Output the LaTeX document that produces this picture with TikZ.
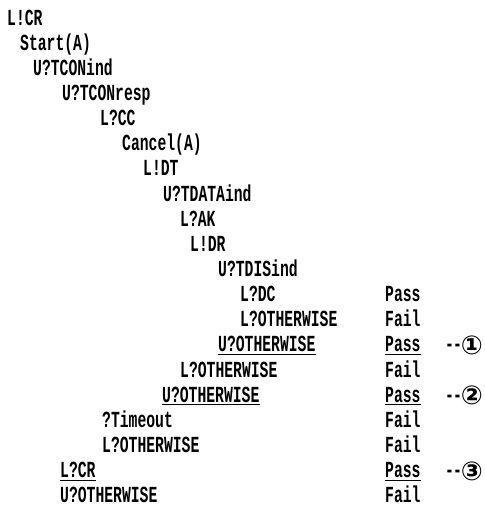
\documentclass[tikz,border=0pt]{standalone}
\usepackage{fontspec}
\setmainfont{Liberation Mono}[FakeStretch=0.64,Ligatures=NoCommon]
\newfontfamily\symfont{DejaVu Sans}
\tikzset{
  ev/.style={anchor=base west, inner sep=0pt, font=\fontsize{23}{23}\selectfont\bfseries},
  verdict/.style={ev},
  refmark/.style={ev},
  uline/.style={line width=1.3pt, black}
}
\newcommand{\circnum}[1]{\mbox{-}\kern-1pt\mbox{-}\kern-1pt{\symfont\fontsize{26}{26}\selectfont\raisebox{-2.5pt}{#1}}}
\begin{document}
\begin{tikzpicture}[x=1pt,y=-1pt]
\useasboundingbox (0,0) rectangle (485,507);
% tree of events
\node[ev] (r0)  at (7,25)      {L!CR};
\node[ev] (r1)  at (20,50.15)  {Start(A)};
\node[ev] (r2)  at (33,75.3)   {U?TCONind};
\node[ev] (r3)  at (62,100.45) {U?TCONresp};
\node[ev] (r4)  at (100,125.6) {L?CC};
\node[ev] (r5)  at (122,150.75){Cancel(A)};
\node[ev] (r6)  at (143,175.9) {L!DT};
\node[ev] (r7)  at (163,201.05){U?TDATAind};
\node[ev] (r8)  at (180,226.2) {L?AK};
\node[ev] (r9)  at (190,251.35){L!DR};
\node[ev] (r10) at (218,276.5) {U?TDISind};
\node[ev] (r11) at (240,301.65){L?DC};
\node[ev] (r12) at (240,326.8) {L?OTHERWISE};
\node[ev] (r13) at (218,351.95){U?OTHERWISE};
\node[ev] (r14) at (180,377.1) {L?OTHERWISE};
\node[ev] (r15) at (162,402.25){U?OTHERWISE};
\node[ev] (r16) at (102,427.4) {?Timeout};
\node[ev] (r17) at (102,452.55){L?OTHERWISE};
\node[ev] (r18) at (60,477.7)  {L?CR};
\node[ev] (r19) at (60,502.85) {U?OTHERWISE};
% verdicts
\node[verdict] (v11) at (385,301.65){Pass};
\node[verdict] (v12) at (385,326.8) {Fail};
\node[verdict] (v13) at (385,351.95){Pass};
\node[verdict] (v14) at (385,377.1) {Fail};
\node[verdict] (v15) at (385,402.25){Pass};
\node[verdict] (v16) at (385,427.4) {Fail};
\node[verdict] (v17) at (385,452.55){Fail};
\node[verdict] (v18) at (385,477.7) {Pass};
\node[verdict] (v19) at (385,502.85){Fail};
% reference marks
\node[refmark] (c13) at (445,351.95){\circnum{①}};
\node[refmark] (c15) at (445,402.25){\circnum{②}};
\node[refmark] (c18) at (445,477.7) {\circnum{③}};
% underlines
\foreach \n in {r13,r15,r18,v13,v15,v18}{
  \draw[uline] ([yshift=-2.5pt]\n.base west) -- ([yshift=-2.5pt]\n.base east);
}
\end{tikzpicture}
\end{document}
